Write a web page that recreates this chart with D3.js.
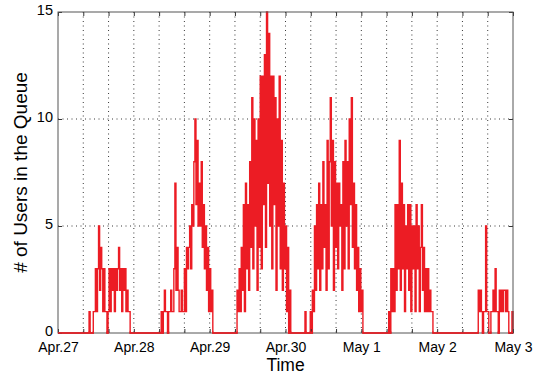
<!DOCTYPE html>
<html>
<head>
<meta charset="utf-8">
<script src="https://cdn.jsdelivr.net/npm/d3@7"></script>
<style>
  html, body { margin: 0; padding: 0; background: #fff; }
  svg { display: block; font-family: Arial, "Liberation Sans", sans-serif; }
</style>
</head>
<body>
<svg id="chart" width="535" height="375"></svg>
<script>
// ---- data (hours since Apr.27 00:00, queue length) ----
const dayLabels = ["Apr.27", "Apr.28", "Apr.29", "Apr.30", "May 1", "May 2", "May 3"];
const yTickValues = [0, 5, 10, 15];
const sampleStepHours = 1 / 3;
const burstStartHours = [9.5, 32.33, 56.33, 77.5, 104.33, 132.67];
const burstApr27 = [0,1,0,0,0,1,1,3,1,3,5,2,4,3,1,3,1,1,0,1,3,1,3,2,3,1,3,2,3,4,2,3,1,3,2,3,1,2,1,1,0];
const burstApr28 = [0,1,0,1,2,1,1,0,1,1,2,1,1,3,7,2,4,2,1,1,2,1,1,3,1,4,3,4,5,3,6,5,8,10,6,9,5,7,5,8,4,6,3,5,2,4,1,3,1,2,0];
const burstApr29 = [0,2,1,3,1,4,2,6,1,7,3,6,2,8,4,11,3,10,5,9,2,10,4,12,3,12,6,13,4,15,7,14,5,12,3,12,6,11,2,10,5,12,3,9,2,7,3,5,1,4,0,2,0];
const burstApr30 = [0,0,1,0,0,0,0,1,0,2,1,5,2,6,3,7,2,6,3,8,4,6,2,9,3,8,11,5,9,2,8,4,7,3,7,5,6,2,8,3,9,5,8,3,10,6,11,4,7,3,6,2,4,1,3,1,2,0];
const burstMay1 = [0,1,0,3,1,3,1,6,2,6,3,9,2,7,3,6,1,5,3,6,2,6,1,5,3,5,1,6,3,5,1,4,6,2,4,1,3,1,3,1,2,1,1,0];
const burstMay2 = [0,2,1,2,1,0,1,1,5,1,1,0,0,1,1,2,1,3,1,1,0,2,1,2,1,2,2,1,2,1,0,0,0,1,0];
const bursts = [burstApr27, burstApr28, burstApr29, burstApr30, burstMay1, burstMay2];
const totalHours = 144;
const minorTickHours = 8;

// ---- build series ----
const series = [[0, 0]];
bursts.forEach((b, k) => {
  b.forEach((v, i) => series.push([burstStartHours[k] + i * sampleStepHours, v]));
});
series.push([totalHours, 0]);

// ---- layout ----
const svg = d3.select("#chart");
const mLeft = 58, mRight = 513, mTop = 12, mBottom = 333;
const x = d3.scaleLinear().domain([0, totalHours]).range([mLeft, mRight]);
const y = d3.scaleLinear().domain([0, 15]).range([mBottom, mTop]);

const xTicks = d3.range(0, totalHours + 0.001, minorTickHours);

// grid
const grid = svg.append("g").attr("stroke", "#222").attr("stroke-width", 0.9)
  .attr("stroke-dasharray", "1,3.5").attr("fill", "none");
xTicks.filter(t => t > 0 && t < totalHours).forEach(t => {
  grid.append("line").attr("x1", x(t)).attr("x2", x(t)).attr("y1", mTop).attr("y2", mBottom);
});
yTickValues.filter(v => v > 0 && v < 15).forEach(v => {
  grid.append("line").attr("x1", mLeft).attr("x2", mRight).attr("y1", y(v)).attr("y2", y(v));
});

// data line
const line = d3.line().x(d => x(d[0])).y(d => y(d[1])).curve(d3.curveStepAfter);
svg.append("path").datum(series)
  .attr("d", line)
  .attr("fill", "none")
  .attr("stroke", "#ec1c24")
  .attr("stroke-width", 1.4);

// axes (inward ticks, box)
const tickLen = 4;
const xAxisBottom = d3.axisBottom(x).tickValues(xTicks).tickSizeInner(-tickLen).tickSizeOuter(0)
  .tickFormat(t => (t % 24 === 0 ? dayLabels[t / 24] : ""));
const gxb = svg.append("g").attr("transform", `translate(0,${mBottom})`).call(xAxisBottom);
gxb.select(".domain").remove();
gxb.selectAll("line").attr("stroke", "#333");
gxb.selectAll("text").attr("font-size", 14).attr("fill", "#000").attr("dy", 0).attr("y", 19);

const xAxisTop = d3.axisTop(x).tickValues(xTicks).tickSizeInner(-tickLen).tickSizeOuter(0).tickFormat("");
const gxt = svg.append("g").attr("transform", `translate(0,${mTop})`).call(xAxisTop);
gxt.select(".domain").remove();
gxt.selectAll("line").attr("stroke", "#333");

const yAxisLeft = d3.axisLeft(y).tickValues(yTickValues).tickSizeInner(-tickLen).tickSizeOuter(0);
const gyl = svg.append("g").attr("transform", `translate(${mLeft},0)`).call(yAxisLeft);
gyl.select(".domain").remove();
gyl.selectAll("line").attr("stroke", "#333");
gyl.selectAll("text").attr("font-size", 14.5).attr("fill", "#000").attr("x", -5).attr("dy", "0.2em");

const yAxisRight = d3.axisRight(y).tickValues(yTickValues).tickSizeInner(-tickLen).tickSizeOuter(0).tickFormat("");
const gyr = svg.append("g").attr("transform", `translate(${mRight},0)`).call(yAxisRight);
gyr.select(".domain").remove();
gyr.selectAll("line").attr("stroke", "#333");

svg.append("rect").attr("x", mLeft).attr("y", mTop).attr("width", mRight - mLeft).attr("height", mBottom - mTop)
  .attr("fill", "none").attr("stroke", "#555").attr("stroke-width", 1);

// redraw zero-level data line over the bottom frame
svg.append("clipPath").attr("id", "bottomClip").append("rect")
  .attr("x", mLeft).attr("y", mBottom - 1.5).attr("width", mRight - mLeft).attr("height", 3);
svg.append("path").datum(series)
  .attr("d", line)
  .attr("fill", "none")
  .attr("stroke", "#ec1c24")
  .attr("stroke-width", 1.4)
  .attr("clip-path", "url(#bottomClip)");

// labels
svg.append("text").attr("x", (mLeft + mRight) / 2).attr("y", 371)
  .attr("text-anchor", "middle").attr("font-size", 17.5).attr("fill", "#000").text("Time");
svg.append("text").attr("transform", `translate(27,${(mTop + mBottom) / 2}) rotate(-90)`)
  .attr("text-anchor", "middle").attr("font-size", 19).attr("fill", "#000").text("# of Users in the Queue");
</script>
</body>
</html>
